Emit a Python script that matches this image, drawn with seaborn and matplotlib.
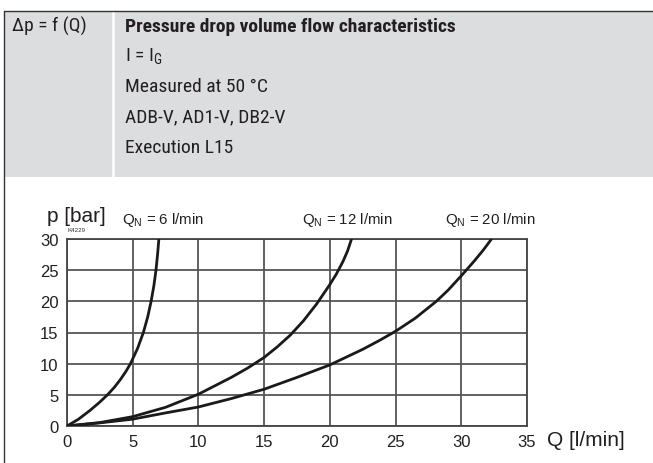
import numpy as np
import pandas as pd
import matplotlib
matplotlib.use("Agg")
import matplotlib.pyplot as plt
from matplotlib.patches import Rectangle
from matplotlib.lines import Line2D
from matplotlib import font_manager
import seaborn as sns

# Curves: Q [l/min] vs p [bar]
q_6 = [0, 0.86, 1.75, 2.45, 3.08, 3.62, 4.08, 4.48, 4.83, 5.38, 5.81, 6.14, 6.40, 6.61, 6.77, 6.89, 6.99]
p_6 = [0, 1.07, 2.5, 3.75, 5.0, 6.25, 7.5, 8.75, 10.0, 12.5, 15.0, 17.5, 20.0, 22.5, 25.0, 27.5, 30.0]

q_12 = [0, 2.5, 5, 7.5, 10, 12.5, 13.75, 15, 16, 17, 18, 19, 20, 20.5, 21, 21.35, 21.65]
p_12 = [0, 0.55, 1.5, 3.0, 5.1, 7.8, 9.3, 11.0, 12.7, 14.6, 16.9, 19.6, 22.7, 24.4, 26.4, 28.1, 30.0]

q_20 = [0, 2.5, 5, 7.5, 10, 12.5, 15, 17.5, 20, 22.5, 23.75, 25, 26.5, 28.1, 29, 30, 31, 31.7, 32.3]
p_20 = [0, 0.5, 1.1, 2.1, 3.05, 4.4, 5.9, 7.8, 9.8, 12.3, 13.7, 15.2, 17.3, 20.0, 21.8, 24.1, 26.5, 28.3, 30.0]

curve_labels = ["6", "12", "20"]
label_x = [122, 302, 445]  # pixel positions of the curve captions

x_ticks = [0, 5, 10, 15, 20, 25, 30, 35]
y_ticks = [0, 5, 10, 15, 20, 25, 30]

header_left = "Δp = f (Q)"
header_title = "Pressure drop volume flow characteristics"
header_lines = ["I = I$_{\\mathregular{G}}$", "Measured at 50 °C", "ADB-V, AD1-V, DB2-V", "Execution L15"]

df = pd.concat([
    pd.DataFrame({"Q": q_6, "p": p_6, "curve": "QN6"}),
    pd.DataFrame({"Q": q_12, "p": p_12, "curve": "QN12"}),
    pd.DataFrame({"Q": q_20, "p": p_20, "curve": "QN20"}),
])

sns.set_style("white")
plt.rcParams["font.family"] = ["Liberation Sans", "DejaVu Sans"]

# condensed face for the header, if one is installed
names = {f.name for f in font_manager.fontManager.ttflist}
narrow = [n for n in ["Liberation Sans Narrow", "DejaVu Sans Condensed", "Roboto Condensed",
                      "Open Sans Condensed"] if n in names]
if narrow:
    narrow_kw = dict(family=narrow + ["DejaVu Sans"])
else:
    narrow_kw = dict(family=["DejaVu Sans"], stretch="condensed")

W, H = 653, 464
fig = plt.figure(figsize=(W / 100, H / 100), dpi=100)

def fx(px):
    return px / W

def fy(py):
    return 1 - py / H

# header box
fig.patches.append(Rectangle((fx(4), fy(178)), 1 - fx(4), fy(12) - fy(178),
                             transform=fig.transFigure, facecolor="#dcdddf",
                             edgecolor="none", zorder=0))
fig.lines.append(Line2D([fx(113), fx(113)], [fy(178), fy(12)], transform=fig.transFigure,
                        color="white", lw=1.8))
fig.lines.append(Line2D([fx(4), 1], [fy(12), fy(12)], transform=fig.transFigure,
                        color="#333333", lw=1.0))
fig.lines.append(Line2D([fx(4), fx(4)], [0, fy(12)], transform=fig.transFigure,
                        color="#333333", lw=1.0))

fig.text(fx(12), fy(32), header_left, fontsize=14, color="#231f20", va="baseline", **narrow_kw)
fig.text(fx(125), fy(32), header_title, fontsize=14, weight="bold",
         color="#231f20", va="baseline", **narrow_kw)
for i, line in enumerate(header_lines):
    fig.text(fx(125), fy(62 + 30.3 * i), line, fontsize=14,
             color="#231f20", va="baseline", **narrow_kw)

# chart
ax = fig.add_axes([fx(67), fy(427), fx(527) - fx(67), fy(240) - fy(427)])
sns.lineplot(data=df, x="Q", y="p", hue="curve", units="curve", estimator=None,
             sort=False, palette=["#1a1a1a"] * 3, linewidth=2.0, legend=False, ax=ax,
             zorder=3)
ax.set_xlim(0, 35)
ax.set_ylim(0, 30)
ax.set_xticks(x_ticks)
ax.set_yticks(y_ticks)
ax.grid(True, color="#555555", lw=1.3)
ax.set_axisbelow(True)
for s in ax.spines.values():
    s.set_color("#444444")
    s.set_linewidth(1.3)
ax.tick_params(length=0, labelsize=12, colors="#231f20", pad=6)
ax.set_xlabel("")
ax.set_ylabel("")

fig.text(fx(47), fy(222), "p [bar]", fontsize=15, color="#231f20", va="baseline")
fig.text(fx(547), fy(446), "Q [l/min]", fontsize=15, color="#231f20", va="baseline")
fig.text(fx(68), fy(232), "K4229", fontsize=4.5, color="#333333", va="baseline")
for lx, lab in zip(label_x, curve_labels):
    fig.text(fx(lx), fy(224), "Q$_{\\mathregular{N}}$ = " + lab + " l/min", fontsize=10.8,
             color="#231f20", va="baseline")

fig.savefig("out.png", dpi=100)
